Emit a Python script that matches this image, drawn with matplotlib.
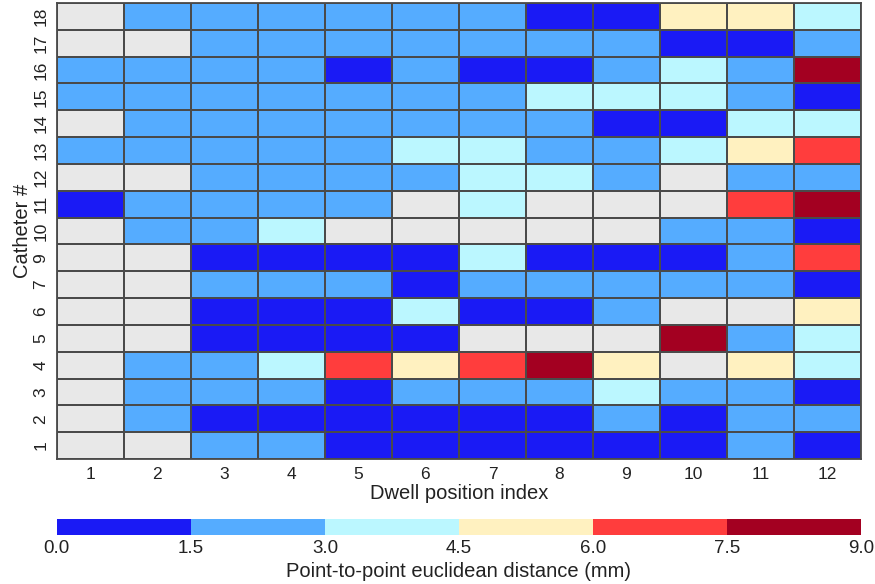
import numpy as np
import matplotlib
matplotlib.use("Agg")
import matplotlib.pyplot as plt
from matplotlib.colors import ListedColormap, BoundaryNorm

plt.rcParams['font.family'] = ['Liberation Sans', 'DejaVu Sans']

# catheter numbers (bottom to top), dwell positions
catheters = [1, 2, 3, 4, 5, 6, 7, 9, 10, 11, 12, 13, 14, 15, 16, 17, 18]
dwell_positions = list(range(1, 13))

n = np.nan
# distance (mm) per catheter row, dwell positions 1..12; nan = no dwell
dist = np.array([
    [n,   n,   2.2, 2.2, 0.8, 0.8, 0.8, 0.8, 0.8, 0.8, 2.2, 0.8],  # 1
    [n,   2.2, 0.8, 0.8, 0.8, 0.8, 0.8, 0.8, 2.2, 0.8, 2.2, 2.2],  # 2
    [n,   2.2, 2.2, 2.2, 0.8, 2.2, 2.2, 2.2, 3.8, 2.2, 2.2, 0.8],  # 3
    [n,   2.2, 2.2, 3.8, 6.8, 5.2, 6.8, 8.2, 5.2, n,   5.2, 3.8],  # 4
    [n,   n,   0.8, 0.8, 0.8, 0.8, n,   n,   n,   8.2, 2.2, 3.8],  # 5
    [n,   n,   0.8, 0.8, 0.8, 3.8, 0.8, 0.8, 2.2, n,   n,   5.2],  # 6
    [n,   n,   2.2, 2.2, 2.2, 0.8, 2.2, 2.2, 2.2, 2.2, 2.2, 0.8],  # 7
    [n,   n,   0.8, 0.8, 0.8, 0.8, 3.8, 0.8, 0.8, 0.8, 2.2, 6.8],  # 9
    [n,   2.2, 2.2, 3.8, n,   n,   n,   n,   n,   2.2, 2.2, 0.8],  # 10
    [0.8, 2.2, 2.2, 2.2, 2.2, n,   3.8, n,   n,   n,   6.8, 8.2],  # 11
    [n,   n,   2.2, 2.2, 2.2, 2.2, 3.8, 3.8, 2.2, n,   2.2, 2.2],  # 12
    [2.2, 2.2, 2.2, 2.2, 2.2, 3.8, 3.8, 2.2, 2.2, 3.8, 5.2, 6.8],  # 13
    [n,   2.2, 2.2, 2.2, 2.2, 2.2, 2.2, 2.2, 0.8, 0.8, 3.8, 3.8],  # 14
    [2.2, 2.2, 2.2, 2.2, 2.2, 2.2, 2.2, 3.8, 3.8, 3.8, 2.2, 0.8],  # 15
    [2.2, 2.2, 2.2, 2.2, 0.8, 2.2, 0.8, 0.8, 2.2, 3.8, 2.2, 8.2],  # 16
    [n,   n,   2.2, 2.2, 2.2, 2.2, 2.2, 2.2, 2.2, 0.8, 0.8, 2.2],  # 17
    [n,   2.2, 2.2, 2.2, 2.2, 2.2, 2.2, 0.8, 0.8, 5.2, 5.2, 3.8],  # 18
])

bounds = [0.0, 1.5, 3.0, 4.5, 6.0, 7.5, 9.0]
colors = ['#1a1af5', '#55acff', '#bbf7ff', '#fff1c0', '#ff3d3d', '#a30021']

cmap = ListedColormap(colors)
cmap.set_bad('#e8e8e8')
norm = BoundaryNorm(bounds, cmap.N)

fig = plt.figure(figsize=(8.75, 5.84), dpi=100)
ax = fig.add_axes([0.065, 0.214, 0.919, 0.781])
cax = fig.add_axes([0.065, 0.084, 0.919, 0.028])

mesh = ax.pcolormesh(np.ma.masked_invalid(dist), cmap=cmap, norm=norm,
                     edgecolors='#4a4a4a', linewidth=1.1)
ax.set_xticks(np.arange(len(dwell_positions)) + 0.5)
ax.set_xticklabels(dwell_positions)
ax.set_yticks(np.arange(len(catheters)) + 0.5)
ax.set_yticklabels(catheters, rotation=90, va='center')
ax.tick_params(length=0, labelsize=12.5, colors='#222222', pad=6)
for s in ax.spines.values():
    s.set_color('#4a4a4a')
    s.set_linewidth(1.3)
ax.set_xlabel('Dwell position index', fontsize=14.5, labelpad=1, color='#222222')
ax.set_ylabel('Catheter #', fontsize=14.5, labelpad=1, color='#222222')

cb = fig.colorbar(mesh, cax=cax, orientation='horizontal', ticks=bounds)
cb.outline.set_visible(False)
cb.ax.tick_params(length=0, colors='#222222', pad=4)
cb.ax.set_xticklabels([f'{b:.1f}' for b in bounds],
                      family=['Liberation Sans Narrow', 'Liberation Sans'], fontsize=13.5)
cb.set_label('Point-to-point euclidean distance (mm)', fontsize=14.5, color='#222222', labelpad=3)

fig.savefig('out.png', dpi=100)
